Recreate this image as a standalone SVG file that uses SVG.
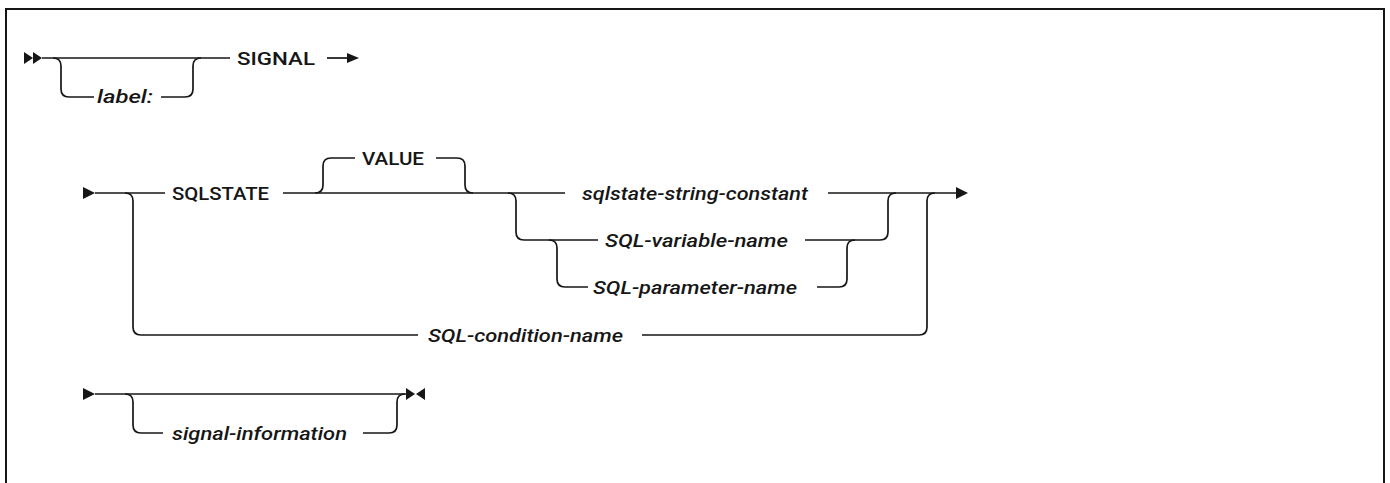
<svg xmlns="http://www.w3.org/2000/svg" width="1390" height="483" viewBox="0 0 1390 483">
<style>
.frame{fill:none;stroke:#161616;stroke-width:2}
.ln{fill:none;stroke:#161616;stroke-width:1.7}
.ah{fill:#161616}
.kw{font-family:Roboto,"Liberation Sans",sans-serif;font-size:18px;font-weight:500;fill:#161616}
.var{font-family:Roboto,"Liberation Sans",sans-serif;font-size:18px;font-style:italic;font-weight:500;fill:#161616}
</style>
<rect width="1390" height="483" fill="#ffffff"/>
<rect class="frame" x="6" y="9" width="1378" height="490"/>
<g id="connectors">
  <path class="ln" d="M42 58 H230"/>
  <path class="ln" d="M53 58 Q61 58 61 66 V89 Q61 97 69 97 H94"/>
  <path class="ln" d="M161 97 H185 Q193 97 193 89 V66 Q193 58 201 58"/>
  <path class="ln" d="M327 58 H348"/>
  <path class="ln" d="M95 193 H165"/>
  <path class="ln" d="M125 193 Q133 193 133 201 V327 Q133 335 141 335 H418"/>
  <path class="ln" d="M283 193 H565"/>
  <path class="ln" d="M315 193 Q323 193 323 185 V166 Q323 158 331 158 H355"/>
  <path class="ln" d="M436 158 H457 Q465 158 465 166 V185 Q465 193 473 193"/>
  <path class="ln" d="M508 193 Q516 193 516 201 V232 Q516 240 524 240 H598"/>
  <path class="ln" d="M549 240 Q557 240 557 248 V279 Q557 287 565 287 H588"/>
  <path class="ln" d="M828 193 H957"/>
  <path class="ln" d="M805 240 H880 Q888 240 888 232 V201 Q888 193 896 193"/>
  <path class="ln" d="M817 287 H839 Q847 287 847 279 V248 Q847 240 855 240"/>
  <path class="ln" d="M642 335 H919 Q927 335 927 327 V201 Q927 193 935 193"/>
  <path class="ln" d="M95 394 H406"/>
  <path class="ln" d="M125 394 Q133 394 133 402 V425 Q133 433 141 433 H163"/>
  <path class="ln" d="M363 433 H389 Q397 433 397 425 V402 Q397 394 405 394"/>
</g>
<g id="start1"><polygon class="ah" points="24,52 33,58 24,64"/><polygon class="ah" points="33,52 42,58 33,64"/></g>
<g id="label"><text class="var" x="97" y="103" textLength="56" lengthAdjust="spacingAndGlyphs">label:</text></g>
<g id="signal"><text class="kw" x="237" y="64.5" textLength="78" lengthAdjust="spacingAndGlyphs">SIGNAL</text></g>
<g id="cont1"><polygon class="ah" points="347,53 359,58 347,63"/></g>
<g id="start2"><polygon class="ah" points="83,187 95,193 83,199"/></g>
<g id="sqlstate"><text class="kw" x="172" y="199.5" textLength="97" lengthAdjust="spacingAndGlyphs">SQLSTATE</text></g>
<g id="value"><text class="kw" x="362" y="164.5" textLength="62" lengthAdjust="spacingAndGlyphs">VALUE</text></g>
<g id="sqlstate-string-constant"><text class="var" x="582" y="199.5" textLength="226" lengthAdjust="spacingAndGlyphs">sqlstate-string-constant</text></g>
<g id="sql-variable-name"><text class="var" x="605" y="246.5" textLength="183" lengthAdjust="spacingAndGlyphs">SQL-variable-name</text></g>
<g id="sql-parameter-name"><text class="var" x="593" y="293.5" textLength="204" lengthAdjust="spacingAndGlyphs">SQL-parameter-name</text></g>
<g id="sql-condition-name"><text class="var" x="428" y="341.5" textLength="195" lengthAdjust="spacingAndGlyphs">SQL-condition-name</text></g>
<g id="cont2"><polygon class="ah" points="956,187 968,193 956,199"/></g>
<g id="start3"><polygon class="ah" points="83,388 95,394 83,400"/></g>
<g id="signal-information"><text class="var" x="172" y="439.5" textLength="175" lengthAdjust="spacingAndGlyphs">signal-information</text></g>
<g id="end"><polygon class="ah" points="406,388 415,394 406,400"/><polygon class="ah" points="425,388 416,394 425,400"/></g>
</svg>
